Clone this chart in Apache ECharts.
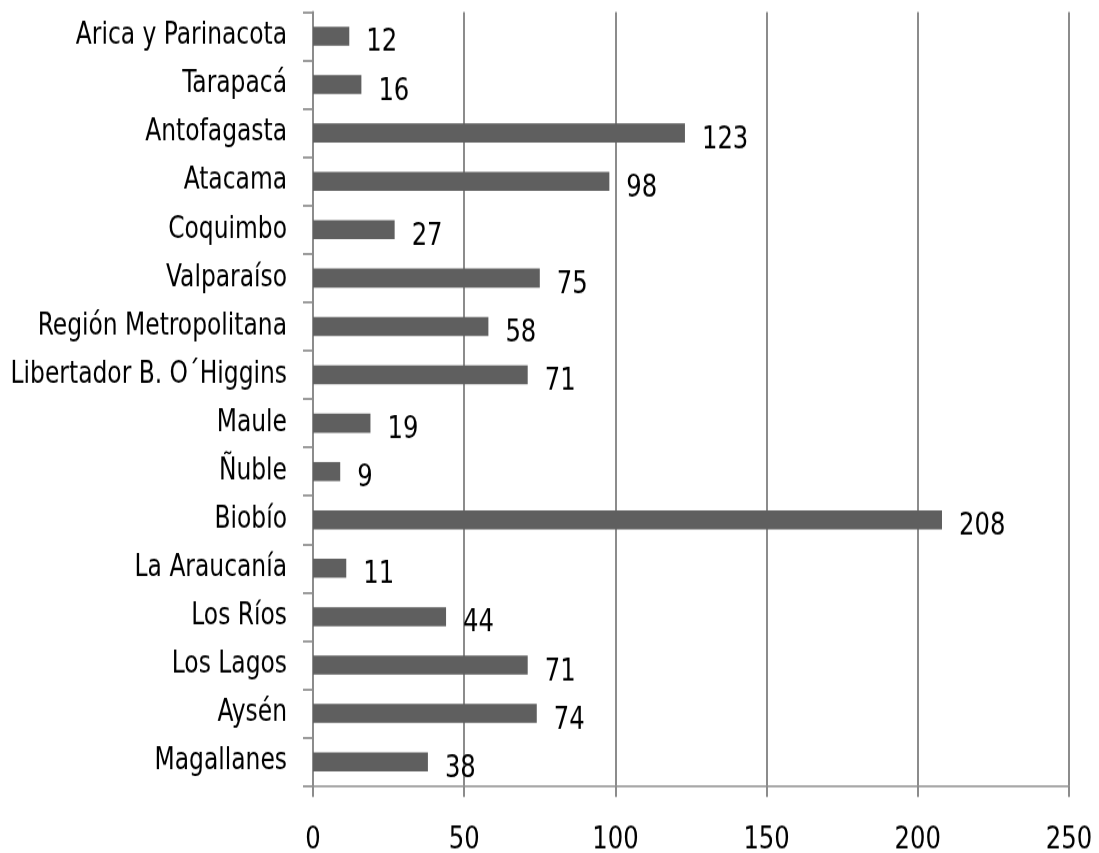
<!DOCTYPE html>
<html>
<head>
<meta charset="utf-8">
<script src="https://cdn.jsdelivr.net/npm/echarts@6/dist/echarts.min.js"></script>
<style>
  html, body { margin: 0; padding: 0; background: #fff; width: 1099px; height: 853px; overflow: hidden; }
  #wrap { position: relative; width: 1099px; height: 853px; overflow: hidden; background: #fff; }
  /* the chart is drawn shorter and stretched vertically so the condensed
     lettering reads tall and narrow; the wrapper clips the spare bottom */
  #chart { position: absolute; left: 0; top: 0; width: 1099px; height: 770px;
           transform: scaleY(1.1496); transform-origin: 0 0; }
</style>
</head>
<body>
<div id="wrap"><div id="chart"></div></div>
<script>
// Regiones de Chile, de norte a sur
const regiones = [
  'Arica y Parinacota', 'Tarapacá', 'Antofagasta', 'Atacama', 'Coquimbo',
  'Valparaíso', 'Región Metropolitana', 'Libertador B. O´Higgins', 'Maule',
  'Ñuble', 'Biobío', 'La Araucanía', 'Los Ríos', 'Los Lagos', 'Aysén', 'Magallanes'
];
const valores = [12, 16, 123, 98, 27, 75, 58, 71, 19, 9, 208, 11, 44, 71, 74, 38];
const ejeMin = 0;
const ejeMax = 250;
const ejePaso = 50;

const K = 1.1496;      // vertical stretch applied to the chart container
const ALTO = 770;      // unstretched canvas height
const fuente = '"Liberation Sans Narrow", "DejaVu Sans Condensed", sans-serif';
const gris = '#8c8c8c';

const chart = echarts.init(document.getElementById('chart'), null, { renderer: 'canvas' });
chart.setOption({
  animation: false,
  backgroundColor: '#ffffff',
  grid: {
    left: 313, right: 30, top: 12 / K, bottom: ALTO - 786 / K,
    containLabel: false,
    outerBoundsMode: 'none'
  },
  xAxis: {
    type: 'value',
    min: ejeMin,
    max: ejeMax,
    interval: ejePaso,
    axisLine: { show: true, lineStyle: { color: gris, width: 2 / K } },
    axisTick: { show: true, length: 11 / K, lineStyle: { color: gris, width: 2 } },
    splitLine: { show: true, lineStyle: { color: gris, width: 2 } },
    axisLabel: { color: '#000', fontFamily: fuente, fontSize: 27, margin: 34 }
  },
  yAxis: {
    type: 'category',
    inverse: true,
    data: regiones,
    axisLine: { show: true, lineStyle: { color: gris, width: 2 } },
    axisTick: { show: true, length: 10, lineStyle: { color: gris, width: 2 / K } },
    splitLine: { show: false },
    axisLabel: { color: '#000', fontFamily: fuente, fontSize: 26, margin: 26, padding: [9, 0, 0, 0] }
  },
  series: [{
    type: 'bar',
    data: valores,
    barWidth: 19 / K,
    itemStyle: { color: '#5f5f5f' },
    label: {
      show: true,
      position: 'right',
      distance: 17,
      offset: [0, 6],
      color: '#000',
      fontFamily: fuente,
      fontSize: 27
    }
  }]
});
</script>
</body>
</html>
